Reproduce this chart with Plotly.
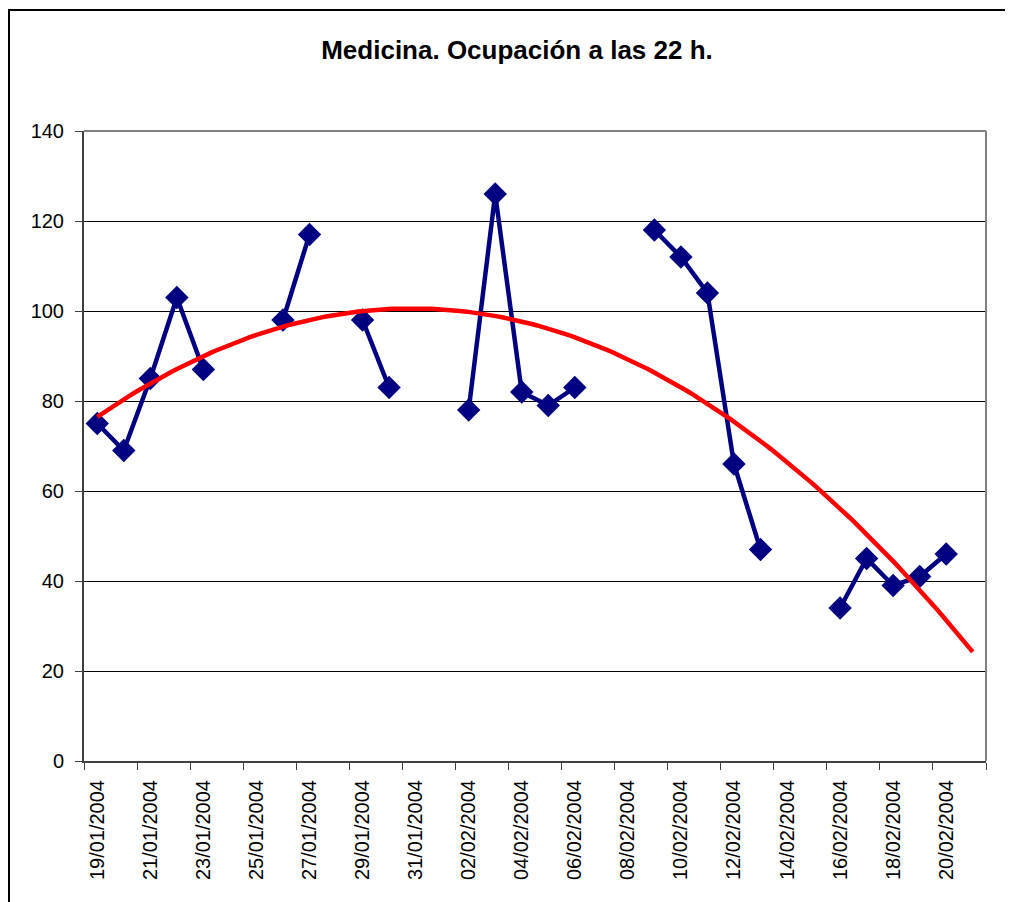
import numpy as np
import plotly.graph_objects as go
from datetime import date, timedelta

# Categories: one per day, 19/01/2004 .. 21/02/2004
start = date(2004, 1, 19)
categories = [(start + timedelta(days=i)).strftime("%d/%m/%Y") for i in range(34)]

# Occupancy at 22 h (None = no data)
occupancy = [75, 69, 85, 103, 87, None, None, 98, 117, None,
             98, 83, None, None, 78, 126, 82, 79, 83, None,
             None, 118, 112, 104, 66, 47, None, None, 34, 45,
             39, 41, 46, None]

y_ticks = [0, 20, 40, 60, 80, 100, 120, 140]

x_pos = list(range(1, len(categories) + 1))
tick_pos = x_pos[::2]
tick_text = categories[::2]

# Polynomial (order 2) trendline, Excel-style on category index
xs = np.array([x for x, v in zip(x_pos, occupancy) if v is not None], float)
ys = np.array([v for v in occupancy if v is not None], float)
coef = np.polyfit(xs, ys, 2)
xt = np.linspace(1, len(categories), 200)
yt = np.polyval(coef, xt)

FONT = "Arial, Liberation Sans, sans-serif"

W, H = 1005, 894          # page has an 8px body margin
L, R, T, B = 76, 27, 123, 141
PW, PH = W - L - R, H - T - B

fig = go.Figure()
fig.add_trace(go.Scatter(
    x=x_pos, y=occupancy, mode="lines+markers",
    line=dict(color="#000080", width=4.5),
    marker=dict(symbol="diamond", size=18, color="#000080"),
    connectgaps=False, showlegend=False, hoverinfo="skip"))
fig.add_trace(go.Scatter(
    x=xt, y=yt, mode="lines",
    line=dict(color="#FF0000", width=4.5),
    showlegend=False, hoverinfo="skip"))

fig.update_layout(
    width=W, height=H,
    margin=dict(l=L, r=R, t=T, b=B),
    paper_bgcolor="white", plot_bgcolor="white",
    font=dict(family=FONT, color="black", size=20),
    title=dict(text="<b>Medicina. Ocupación a las 22 h.</b>",
               x=509 / W, xref="container", xanchor="center",
               y=1 - 42 / H, yref="container", yanchor="middle",
               font=dict(size=26, family=FONT, color="black")),
    xaxis=dict(range=[0.5, len(categories) + 0.5],
               tickmode="array", tickvals=tick_pos, ticktext=tick_text,
               tickangle=-90, ticks="", showgrid=False, zeroline=False,
               showline=True, linecolor="#404040", linewidth=2,
               ticklabelstandoff=9,
               tickfont=dict(size=20, family=FONT, color="black"),
               minor=dict(ticks="outside", ticklen=7, tick0=0.5, dtick=2,
                          tickcolor="#404040", tickwidth=1, showgrid=False)),
    yaxis=dict(range=[0, 140], tickmode="array", tickvals=y_ticks,
               ticks="outside", ticklen=7, tickcolor="#404040",
               showgrid=True, gridcolor="black", gridwidth=1,
               zeroline=False, showline=True, linecolor="#404040",
               linewidth=2, ticklabelstandoff=7,
               tickfont=dict(size=20, family=FONT, color="black")),
    shapes=[
        # plot area top/right border (gray)
        dict(type="line", xref="paper", yref="paper", x0=0, x1=1, y0=1, y1=1,
             line=dict(color="#808080", width=2), layer="above"),
        dict(type="line", xref="paper", yref="paper", x0=1, x1=1, y0=0, y1=1,
             line=dict(color="#808080", width=2), layer="above"),
        # chart border
        dict(type="rect", xref="paper", yref="paper",
             x0=(1 - L) / PW, x1=1.1, y0=-0.4, y1=(H - B - 2) / PH,
             line=dict(color="black", width=2), layer="above"),
    ],
)

fig.write_html("out.html")
